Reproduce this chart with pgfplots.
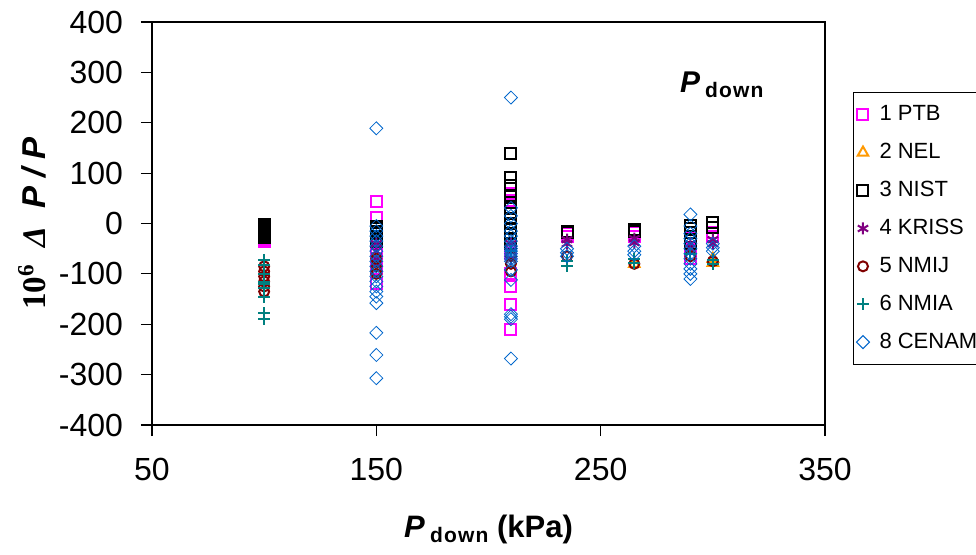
\documentclass[border=0pt]{standalone}
\usepackage{fontspec}
\setmainfont{Liberation Sans}
\newfontfamily\seriffont{Liberation Serif}
\usepackage{pgfplots}
\pgfplotsset{compat=1.18}
\definecolor{cptb}{RGB}{255,0,255}
\definecolor{cnel}{RGB}{255,153,0}
\definecolor{cnist}{RGB}{0,0,0}
\definecolor{ckriss}{RGB}{128,0,128}
\definecolor{cnmij}{RGB}{128,0,0}
\definecolor{cnmia}{RGB}{0,128,128}
\definecolor{ccenam}{RGB}{0,102,204}
\newcommand{\down}{\raisebox{-0.35ex}{\fontsize{10.5}{12}\selectfont d\kern0.6pt o\kern0.6pt w\kern0.6pt n}}
\begin{document}
\begin{tikzpicture}
\begin{axis}[
  scale only axis, width=336.5pt, height=201.5pt,
  at={(0,0)}, anchor=south west,
  xmin=50, xmax=350, ymin=-400, ymax=400,
  xtick={50,150,250,350}, ytick={-400,-300,-200,-100,0,100,200,300,400},
  tick pos=left, tick align=outside, major tick length=5.5pt,
  tick style={black, line width=0.6pt},
  axis line style={line width=0.9pt},
  /pgf/number format/assume math mode=true,
  ticklabel style={font=\fontsize{16}{18}\selectfont},
  yticklabel style={xshift=-5.5pt},
  xticklabel style={yshift=-7.5pt},
  every axis x label/.style={at={(axis description cs:0.5,0)}, anchor=center, yshift=-52pt},
  every axis y label/.style={at={(axis description cs:-0.178,0.5)}, rotate=90, anchor=center},
  xlabel={\fontsize{15.5}{17}\selectfont\bfseries\textit{P}\,\down\ (kPa)},
  ylabel={\fontsize{16.5}{18}\selectfont\bfseries{\seriffont 10\textsuperscript{6}\ \ \textit{Δ}}\ \ \textit{P / P}},
  only marks,
  mark options={solid, line width=1pt},
  legend style={at={(rel axis cs:1.0416,0.826)}, anchor=north west,
    font=\fontsize{11}{13}\selectfont, draw=black, line width=0.5pt,
    row sep=5.8pt, inner xsep=1.5pt, inner ysep=4.5pt, cells={anchor=west}},
  legend cell align=left,
]
% 1 PTB
\addplot[cptb, mark=square, mark size=2.75pt] coordinates {
(100,-30) (100,-35) (100,-33)
(150,43) (150,12) (150,-20) (150,-40) (150,-60) (150,-90) (150,-120)
(210,60) (210,45) (210,20) (210,-20) (210,-40) (210,-60) (210,-100) (210,-125) (210,-160) (210,-210)
(235,-20) (235,-25)
(265,-18) (265,-25)
(290,-30) (290,-50) (290,-70)
(300,-18) (300,-25)
};
\addlegendentry{\hspace{3pt}1 PTB}
% 2 NEL
\addplot[cnel, mark=triangle, mark size=3pt] coordinates {
(300,-70) (300,-78) (265,-80)
};
\addlegendentry{\hspace{3pt}2 NEL}
% 3 NIST
\addplot[cnist, mark=square, mark size=2.75pt] coordinates {
(100,-2) (100,-5) (100,-8) (100,-10) (100,-12) (100,-15) (100,-18) (100,-20) (100,-22) (100,-25) (100,-28)
(150,-5) (150,-10) (150,-15) (150,-20) (150,-25) (150,-30) (150,-35)
(210,139) (210,92) (210,75) (210,55) (210,42) (210,30) (210,20) (210,10) (210,0) (210,-10) (210,-20) (210,-30) (210,-40)
(235,-15) (235,-18)
(265,-12) (265,-15)
(290,-3) (290,-10) (290,-18) (290,-25) (290,-33) (290,-40)
(300,3) (300,-8)
};
\addlegendentry{\hspace{3pt}3 NIST}
% 4 KRISS
\addplot[ckriss, mark=asterisk, mark size=3pt] coordinates {
(150,-40) (150,-55) (150,-70) (150,-80)
(210,-40) (210,-55) (210,-70)
(235,-32) (235,-40)
(265,-30) (265,-38)
(290,-40) (290,-50)
(300,-32) (300,-40)
};
\addlegendentry{\hspace{3pt}4 KRISS}
% 5 NMIJ
\addplot[cnmij, mark=o, mark size=2.5pt] coordinates {
(100,-85) (100,-95) (100,-105) (100,-115) (100,-125) (100,-135)
(150,-70) (150,-85) (150,-95) (150,-100)
(210,-65) (210,-80) (210,-95)
(235,-65)
(265,-80)
(290,-65)
(300,-75)
};
\addlegendentry{\hspace{3pt}5 NMIJ}
% 6 NMIA
\addplot[cnmia, mark=+, mark size=3pt] coordinates {
(100,-72) (100,-82) (100,-100) (100,-116) (100,-120) (100,-128) (100,-146) (100,-178) (100,-190)
(210,-55)
(235,-75) (235,-85)
(265,-70) (265,-78)
(290,-60)
(300,-72) (300,-80)
};
\addlegendentry{\hspace{3pt}6 NMIA}
% 8 CENAM
\addplot[ccenam, mark=square, mark size=2.3pt, mark options={rotate=45}] coordinates {
(150,189) (150,-5) (150,-15) (150,-25) (150,-35) (150,-45) (150,-55) (150,-65) (150,-75) (150,-85) (150,-95) (150,-105) (150,-115) (150,-125) (150,-135) (150,-145) (150,-158) (150,-217) (150,-261) (150,-307)
(210,250) (210,31) (210,15) (210,0) (210,-15) (210,-25) (210,-35) (210,-45) (210,-50) (210,-55) (210,-60) (210,-65) (210,-70) (210,-75) (210,-92) (210,-112) (210,-180) (210,-185) (210,-190) (210,-268)
(235,-50) (235,-58) (235,-65)
(265,-45) (265,-55) (265,-62)
(290,18) (290,-5) (290,-20) (290,-30) (290,-40) (290,-50) (290,-60) (290,-70) (290,-80) (290,-90) (290,-100) (290,-110)
(300,-40) (300,-48) (300,-55)
};
\addlegendentry{\hspace{3pt}8 CENAM}
\node[font=\fontsize{15}{17}\selectfont\bfseries] at (axis cs:304,275) {\textit{P}\,\down};
\end{axis}
\pgfresetboundingbox
\path (-76pt,-64.5pt) rectangle (412pt,212.5pt);
\end{tikzpicture}
\end{document}
